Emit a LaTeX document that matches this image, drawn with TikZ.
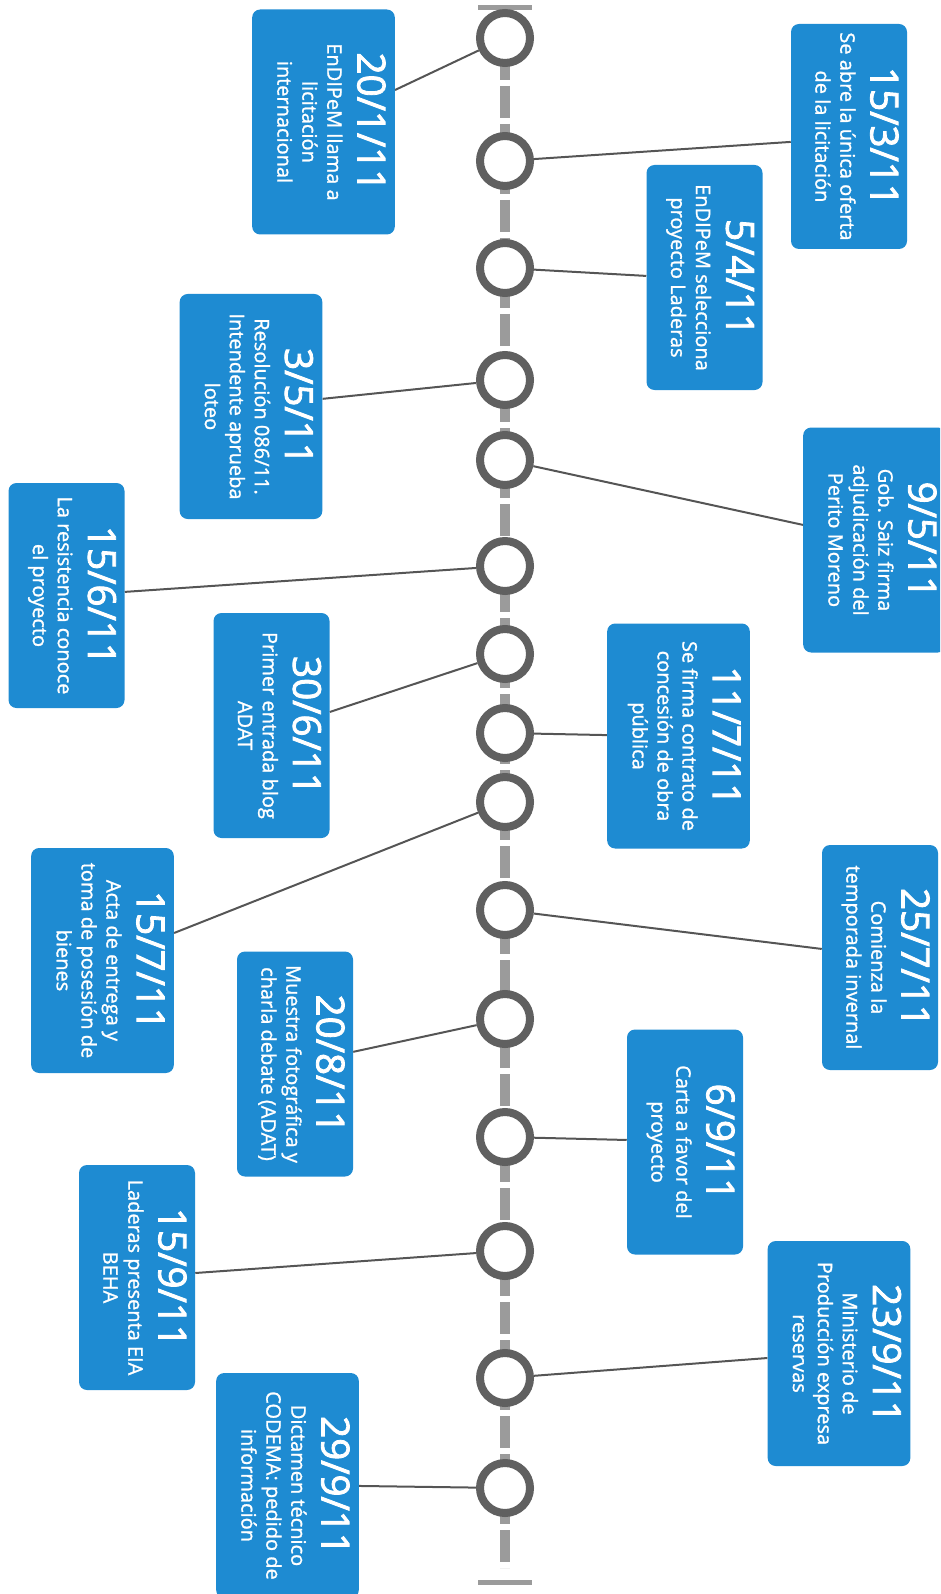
\documentclass[tikz,border=0pt]{standalone}
\usepackage{fontspec}
\setmainfont{Open Sans}[FakeBold=1.2]
\newfontfamily\datefont{Open Sans}[FakeBold=2.2]
\newfontfamily\descfont{Open Sans}[FakeBold=1.2]
\usetikzlibrary{calc}
\definecolor{tlblue}{RGB}{30,139,210}
\definecolor{axisgray}{RGB}{155,155,155}
\definecolor{ringgray}{RGB}{96,96,96}
\definecolor{linkgray}{RGB}{85,85,85}
\newcommand\dt[1]{{\datefont\fontsize{29}{33}\selectfont #1}\\[4pt]}
\newcommand\lastdepth{\rule[-12pt]{0pt}{12pt}}
\begin{document}
\begin{tikzpicture}[x=0.75pt,y=-0.75pt,
  evt/.style={rotate=-90, fill=tlblue, rounded corners=6pt, text=white, align=center,
    inner sep=0pt, minimum width=168.75pt, font=\descfont\fontsize{15}{18.7}\selectfont},
  wtwo/.style={minimum height=87pt},
  wthree/.style={minimum height=107pt},
  dot/.style={circle, draw=ringgray, line width=6pt, fill=white, minimum size=37.5pt, inner sep=0pt},
  link/.style={draw=linkgray, line width=1.5pt},
  tlaxis/.style={draw=axisgray, line width=7.5pt, dash pattern=on 24pt off 4.5pt},
  endbar/.style={draw=axisgray, line width=3.75pt}]
\useasboundingbox (0,0) rectangle (940,1594);
\clip (0,0) rectangle (940,1594);
% axis
\coordinate (tl) at (478,7.5);
\coordinate (tr) at (532,7.5);
\coordinate (bl) at (478,1582);
\coordinate (br) at (532,1582);
\coordinate (atop) at (505,10);
\coordinate (abot) at (505,1568);
\draw[tlaxis] (atop) -- (abot);
\draw[endbar] (tl) -- (tr);
\draw[endbar] (bl) -- (br);
% boxes
\node[evt,wthree] (b1) at (323.5,122) {\dt{20/1/11}EnDIPeM llama a\\licitación\\internacional\lastdepth};
\node[evt,wtwo] (b2) at (849,136.5) {\dt{15/3/11}Se abre la única oferta\\de la licitación\lastdepth};
\node[evt,wtwo] (b3) at (704.5,277.5) {\dt{5/4/11}EnDIPeM selecciona\\proyecto Laderas\lastdepth};
\node[evt,wthree] (b4) at (251,406.5) {\dt{3/5/11}Resolución 086/11.\\Intendente aprueba\\loteo\lastdepth};
\node[evt,wthree] (b5) at (874.5,540) {\dt{9/5/11}Gob. Saiz firma\\adjudicación del\\Perito Moreno\lastdepth};
\node[evt,wtwo] (b6) at (66.5,595.5) {\dt{15/6/11}La resistencia conoce\\el proyecto\lastdepth};
\node[evt,wtwo] (b7) at (271.5,725.5) {\dt{30/6/11}Primer entrada blog\\ADAT\lastdepth};
\node[evt,wthree] (b8) at (678.5,736) {\dt{11/7/11}Se firma contrato de\\concesión de obra\\pública\lastdepth};
\node[evt,wthree] (b9) at (102.5,960.5) {\dt{15/7/11}Acta de entrega y\\toma de posesión de\\bienes\lastdepth};
\node[evt,wtwo] (b10) at (880,957.5) {\dt{25/7/11}Comienza la\\temporada invernal\lastdepth};
\node[evt,wtwo] (b11) at (295,1064) {\dt{20/8/11}Muestra fotográfica y\\charla debate (ADAT)\lastdepth};
\node[evt,wtwo] (b12) at (685,1142) {\dt{6/9/11}Carta a favor del\\proyecto\lastdepth};
\node[evt,wtwo] (b13) at (137,1277.5) {\dt{15/9/11}Laderas presenta EIA\\BEHA\lastdepth};
\node[evt,wthree] (b14) at (839,1353.5) {\dt{23/9/11}Ministerio de\\Producción expresa\\reservas\lastdepth};
\node[evt,wthree] (b15) at (287.5,1485.5) {\dt{29/9/11}Dictamen técnico\\CODEMA: pedido de\\información\lastdepth};
% circles
\node[dot] (c1) at (505,38) {};
\node[dot] (c2) at (505,161) {};
\node[dot] (c3) at (505,268) {};
\node[dot] (c4) at (505,380) {};
\node[dot] (c5) at (505,460) {};
\node[dot] (c6) at (505,566) {};
\node[dot] (c7) at (505,654) {};
\node[dot] (c8) at (505,733) {};
\node[dot] (c9) at (505,802) {};
\node[dot] (c10) at (505,910) {};
\node[dot] (c11) at (505,1019) {};
\node[dot] (c12) at (505,1137) {};
\node[dot] (c13) at (505,1251) {};
\node[dot] (c14) at (505,1378) {};
\node[dot] (c15) at (505,1488) {};
% connectors (left boxes: right edge; right boxes: left edge)
\draw[link] (c1) -- ($(b1.north west)!0.358!(b1.north east)$);
\draw[link] (c2) -- ($(b2.south west)!0.524!(b2.south east)$);
\draw[link] (c3) -- ($(b3.south west)!0.493!(b3.south east)$);
\draw[link] (c4) -- ($(b4.north west)!0.466!(b4.north east)$);
\draw[link] (c5) -- ($(b5.south west)!0.433!(b5.south east)$);
\draw[link] (c6) -- ($(b6.north west)!0.484!(b6.north east)$);
\draw[link] (c7) -- ($(b7.north west)!0.44!(b7.north east)$);
\draw[link] (c8) -- ($(b8.south west)!0.496!(b8.south east)$);
\draw[link] (c9) -- ($(b9.north west)!0.378!(b9.north east)$);
\draw[link] (c10) -- ($(b10.south west)!0.462!(b10.south east)$);
\draw[link] (c11) -- ($(b11.north west)!0.446!(b11.north east)$);
\draw[link] (c12) -- ($(b12.south west)!0.491!(b12.south east)$);
\draw[link] (c13) -- ($(b13.north west)!0.48!(b13.north east)$);
\draw[link] (c14) -- ($(b14.south west)!0.52!(b14.south east)$);
\draw[link] (c15) -- ($(b15.north west)!0.502!(b15.north east)$);
\end{tikzpicture}
\end{document}
